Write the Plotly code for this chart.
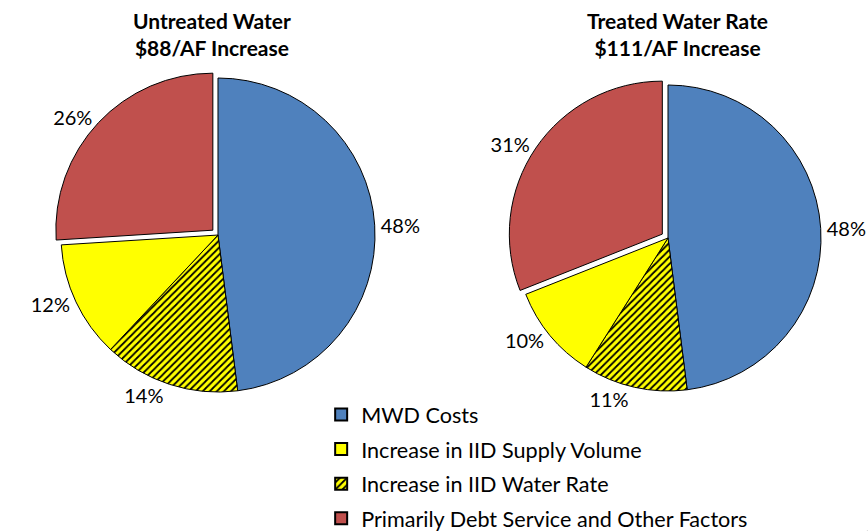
import plotly.graph_objects as go

categories = ["MWD Costs", "Increase in IID Supply Volume", "Increase in IID Water Rate",
              "Primarily Debt Service and Other Factors"]
untreated_pct = [48, 12, 14, 26]
treated_pct = [48, 10, 11, 31]
titles = ["<b>Untreated Water<br>$88/AF Increase</b>", "<b>Treated Water Rate<br>$111/AF Increase</b>"]

colors = ["#4F81BD", "#FFFF00", "#FFFF00", "#C0504D"]
shapes = ["", "", "/", ""]
# slice order clockwise from 12 o'clock: MWD, hatched, yellow, red
order = [0, 2, 1, 3]

FONT = "Lato, Open Sans, sans-serif"

fig = go.Figure()

# legend entries (one microscopic pie per category so the legend order and spacing match)
for k, cat in enumerate(categories):
    fig.add_trace(go.Pie(
        labels=[cat], values=[1], sort=False, legendgroup=f"g{k}",
        marker=dict(colors=[colors[k]],
                    pattern=dict(shape=[shapes[k]], fgcolor="black", bgcolor=[colors[k]],
                                 size=5, solidity=0.35),
                    line=dict(color="black", width=2)),
        textinfo="none", hoverinfo="skip", domain=dict(x=[0.9999, 1], y=[0, 0.0001]),
    ))

domains = [dict(x=[0.0621, 0.4402], y=[0.2484, 0.8664]),
           dict(x=[0.5854, 0.9538], y=[0.2507, 0.8529])]
for vals, dom in zip([untreated_pct, treated_pct], domains):
    fig.add_trace(go.Pie(
        labels=[categories[i] for i in order],
        values=[vals[i] for i in order],
        marker=dict(colors=[colors[i] for i in order],
                    pattern=dict(shape=[shapes[i] for i in order], fgcolor="black",
                                 bgcolor=[colors[i] for i in order], size=5, solidity=0.35),
                    line=dict(color="black", width=1)),
        sort=False, direction="clockwise", rotation=0,
        pull=[0, 0, 0, 0.045], automargin=False, showlegend=False,
        texttemplate="%{value}%", textposition="outside",
        textfont=dict(size=20, color="black", family=FONT),
        domain=dom, hoverinfo="label+percent",
    ))

for t, x in zip(titles, [0.2437, 0.781]):
    fig.add_annotation(text=t, x=x, y=1 - 6 / 531, xref="paper", yref="paper", xanchor="center",
                       yanchor="top", showarrow=False,
                       font=dict(size=21, color="black", family=FONT))

fig.update_layout(
    width=868, height=531, margin=dict(l=0, r=0, t=0, b=0, autoexpand=False),
    paper_bgcolor="white", plot_bgcolor="white",
    font=dict(family=FONT, color="black"),
    legend=dict(x=0.37, y=0.258, xanchor="left", yanchor="top", traceorder="grouped",
                tracegroupgap=3.5,
                font=dict(size=21.6, color="black", family=FONT), bgcolor="rgba(0,0,0,0)"),
)
fig.write_html("out.html", config={"displayModeBar": False})

with open("out.html", encoding="utf-8") as f:
    html = f.read()
html = html.replace("<head>", "<head><style>html,body{margin:0;padding:0;overflow:hidden;}</style>", 1)
with open("out.html", "w", encoding="utf-8") as f:
    f.write(html)
